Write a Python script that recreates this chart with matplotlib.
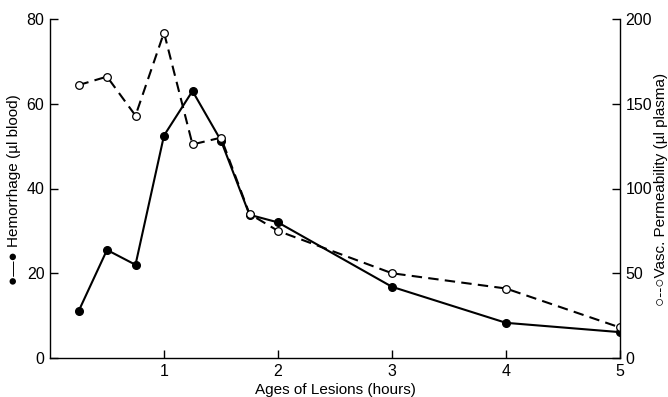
import matplotlib
matplotlib.use("Agg")
import matplotlib.pyplot as plt

plt.rcParams['font.family'] = ['Liberation Sans', 'DejaVu Sans']

hours = [0.25, 0.5, 0.75, 1.0, 1.25, 1.5, 1.75, 2.0, 3.0, 4.0, 5.0]
hemorrhage = [11, 25.5, 22, 52.5, 63, 51.3, 33.8, 32, 16.8, 8.3, 6.1]
permeability = [161, 166, 143, 192, 126, 130, 85, 75, 50, 41, 18]

x_ticks = [1, 2, 3, 4, 5]
left_ticks = [0, 20, 40, 60, 80]
right_ticks = [0, 50, 100, 150, 200]

W, H = 668, 397
fig = plt.figure(figsize=(W/100, H/100), dpi=100)
ax = fig.add_axes([50/W, 39/H, 570/W, 339/H])
ax2 = ax.twinx()

ax.plot(hours, hemorrhage, color='black', lw=1.5, marker='o', ms=5.5,
        mfc='black', mec='black', zorder=3)
ax2.plot(hours, permeability, color='black', lw=1.5, ls=(0, (5, 3)), marker='o',
         ms=5.5, mfc='white', mec='black', mew=0.9, zorder=2)

ax.set_xlim(0, 5)
ax.set_ylim(0, 80)
ax2.set_ylim(0, 200)

ax.set_xticks(x_ticks)
ax.set_yticks(left_ticks)
ax2.set_yticks(right_ticks)

for a in (ax, ax2):
    a.spines['top'].set_visible(False)
    for s in a.spines.values():
        s.set_linewidth(1.0)
ax.spines['right'].set_visible(False)
ax2.spines['left'].set_visible(False)
ax2.spines['bottom'].set_visible(False)

ax.tick_params(axis='both', direction='in', length=6, width=1.0, labelsize=11.5, pad=4)
ax2.tick_params(axis='y', direction='in', length=6, width=1.0, labelsize=11.5, pad=4)

fig.text(335/W, 7/H, 'Ages of Lesions (hours)', fontsize=11, ha='center', va='center')
fig.text(14/W, 1 - 190/H, '●—● Hemorrhage (µl blood)', fontsize=11,
         rotation=90, ha='center', va='center')
fig.text(661/W, 1 - 189/H, '○--○Vasc. Permeability (µl plasma)', fontsize=11,
         rotation=90, ha='center', va='center')

fig.savefig('out.png', dpi=100)
